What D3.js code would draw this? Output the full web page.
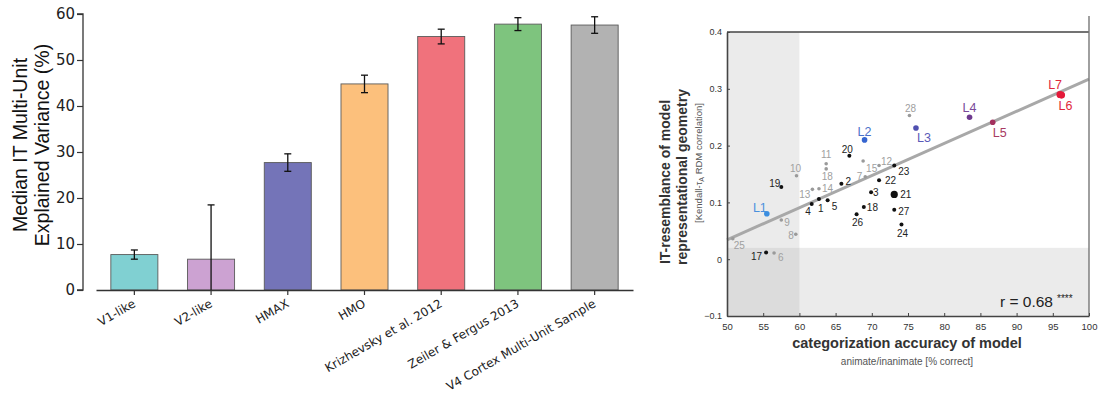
<!DOCTYPE html>
<html><head><meta charset="utf-8">
<script src="https://cdn.jsdelivr.net/npm/d3@7"></script>
<style>body{margin:0;background:#fff}svg{display:block}</style>
</head><body><svg id="c" width="1098" height="396"></svg>
<script>
// ---------- Left chart data ----------
const barCategories = ["V1-like","V2-like","HMAX","HMO","Krizhevsky et al. 2012","Zeiler & Fergus 2013","V4 Cortex Multi-Unit Sample"];
const barValues = [7.7, 6.7, 27.7, 44.8, 55.1, 57.8, 57.6];
const barErrors = [1.0, 11.8, 1.9, 1.9, 1.6, 1.4, 1.8];
const barYTicks = [0, 10, 20, 30, 40, 50, 60];

// ---------- Right chart data ----------
const pointLabels = ["L1","19","10","13","14","4","1","5","9","8","25","17","6","11","18","20","2","7","15","12","22","23","3","21","18","26","27","24","28","L2","L3","L4","L5","L6","L7"];
const pointX = [55.5,57.5,59.6,61.8,62.7,61.7,62.7,63.9,57.5,59.5,50.8,55.4,56.5,63.7,63.7,66.9,65.8,69.1,68.8,71.0,71.0,73.1,69.9,73.1,68.9,67.9,73.1,74.1,75.2,69.0,76.1,83.5,86.7,96.2,96.0];
const pointY = [0.080,0.127,0.147,0.123,0.124,0.097,0.106,0.104,0.069,0.044,0.036,0.012,0.011,0.168,0.159,0.182,0.133,0.145,0.173,0.165,0.139,0.165,0.118,0.114,0.092,0.079,0.087,0.061,0.253,0.210,0.231,0.250,0.241,0.289,0.290];
const pointKind = ["L","black","gray","gray","gray","black","black","black","gray","gray","gray","black","gray","gray","gray","black","black","gray","gray","gray","black","black","black","big","black","black","black","black","gray","L","L","L","L","L","L"];
const fitX = [50, 100];
const fitY = [0.034, 0.317];
const scatterXTicks = [50,55,60,65,70,75,80,85,90,95,100];
const scatterYTicks = [-0.1,0,0.1,0.2,0.3,0.4];
const rText = "r = 0.68";

// ---------- Styles / layout (not data) ----------
const barColors = ["#80d0d2","#cca2d2","#7474b8","#fcc07c","#f0727c","#7ec47e","#b2b2b2"];
const lColors = {L1:"#3b8ee0",L2:"#3565d0",L3:"#5050b0",L4:"#6e3a8e",L5:"#a3305e",L6:"#e41a3a",L7:"#e41a3a"};
const lTextColors = {L1:"#4a90dd",L2:"#4a70c8",L3:"#5a5ab8",L4:"#7a4a9a",L5:"#a83a62",L6:"#e0283c",L7:"#e0283c"};
// [anchor, dx, dy] label placement relative to each point
const labelPlace = [
 ["end",0,-2],["end",-1,0],["middle",-1,-4],["end",-2,9],["start",3,3],["end",-1,11],["start",-1,13],["start",4,10],
 ["start",3,6],["end",-2,5],["start",1,10],["end",-4,8],["start",4,8],["middle",0,-6],["middle",1,11],["middle",-2,-3],
 ["start",4,1],["end",-3,3],["start",3,11],["start",2,0],["start",6,4],["start",4,10],["start",2,4],["start",6,4],
 ["start",3,4],["middle",1,12],["start",4,5],["middle",1,12],["middle",1,-3],["middle",0,-4],["start",1,14],["middle",0,-5],
 ["start",0,15],["start",-3,15],["end",2,-5]
];

const svg = d3.select("#c");

// ================= LEFT BAR CHART =================
const lx = d3.scaleBand().domain(barCategories).range([96,633]).paddingInner(0.387).paddingOuter(0.1935);
const ly = d3.scaleLinear().domain([0,60]).range([290,14]);
const gL = svg.append("g");

gL.selectAll("rect.bar").data(barCategories).join("rect")
  .attr("x", d => lx(d)).attr("width", lx.bandwidth())
  .attr("y", (d,i) => ly(barValues[i])).attr("height", (d,i) => ly(0)-ly(barValues[i]))
  .attr("fill", (d,i) => barColors[i]).attr("stroke","#5a5a5a").attr("stroke-width",0.9);

// error bars
barCategories.forEach((d,i) => {
  const cx = lx(d) + lx.bandwidth()/2;
  const lo = Math.max(0, barValues[i]-barErrors[i]), hi = barValues[i]+barErrors[i];
  gL.append("line").attr("x1",cx).attr("x2",cx).attr("y1",ly(lo)).attr("y2",ly(hi)).attr("stroke","#111").attr("stroke-width",1.3);
  gL.append("line").attr("x1",cx-3.5).attr("x2",cx+3.5).attr("y1",ly(hi)).attr("y2",ly(hi)).attr("stroke","#111").attr("stroke-width",1.3);
  if (lo > 0) gL.append("line").attr("x1",cx-3.5).attr("x2",cx+3.5).attr("y1",ly(lo)).attr("y2",ly(lo)).attr("stroke","#111").attr("stroke-width",1.3);
});

// y axis (offset spine)
const yAxisL = gL.append("g").attr("transform","translate(83,0)")
  .call(d3.axisLeft(ly).tickValues(barYTicks).tickSize(6).tickPadding(2));
yAxisL.select(".domain").attr("stroke","#333").attr("stroke-width",1.3).attr("d","M-6,14H0V290H-6");
yAxisL.selectAll(".tick line").attr("stroke","#333").attr("stroke-width",1.2);
yAxisL.selectAll(".tick text").attr("font-family","DejaVu Sans").attr("font-size",15).attr("fill","#222");

// x axis
const xAxisL = gL.append("g").attr("transform","translate(0,290)")
  .call(d3.axisBottom(lx).tickSize(5).tickSizeOuter(0));
xAxisL.select(".domain").attr("stroke","#333").attr("stroke-width",1.3);
xAxisL.selectAll(".tick line").attr("stroke","#333").attr("stroke-width",1.2);
xAxisL.selectAll(".tick text")
  .attr("font-family","DejaVu Sans").attr("font-size",12).attr("fill","#222")
  .attr("text-anchor","end").attr("dy",null).attr("y",0)
  .attr("transform","translate(2,16) rotate(-30)");

// y label
const ylab = gL.append("text").attr("transform","translate(0,145) rotate(-90)")
  .attr("font-family","Liberation Sans").attr("font-size",19.5).attr("fill","#111").attr("text-anchor","middle");
ylab.append("tspan").attr("x",0).attr("y",27).text("Median IT Multi-Unit");
ylab.append("tspan").attr("x",0).attr("y",49).text("Explained Variance (%)");

// ================= RIGHT SCATTER =================
const sx = d3.scaleLinear().domain([50,100]).range([727,1089]);
const sy = d3.scaleLinear().domain([-0.1,0.4]).range([316,32]);
const gR = svg.append("g");

// shaded regions
gR.append("rect").attr("x",sx(50)).attr("width",sx(60)-sx(50)).attr("y",sy(0.4)).attr("height",sy(-0.1)-sy(0.4)).attr("fill","#ebebeb");
gR.append("rect").attr("x",sx(50)).attr("width",sx(100)-sx(50)).attr("y",sy(0.02)).attr("height",sy(-0.1)-sy(0.02)).attr("fill","#ebebeb");
gR.append("rect").attr("x",sx(50)).attr("width",sx(60)-sx(50)).attr("y",sy(0.02)).attr("height",sy(-0.1)-sy(0.02)).attr("fill","#dcdcdc");

// fit line
gR.append("line").attr("x1",sx(fitX[0])).attr("y1",sy(fitY[0])).attr("x2",sx(fitX[1])).attr("y2",sy(fitY[1]))
  .attr("stroke","#a8a8a8").attr("stroke-width",3);

// frame
gR.append("path").attr("d",`M${sx(50)},${sy(0.4)}H${sx(100)}`).attr("stroke","#444").attr("stroke-width",1.6).attr("fill","none");
gR.append("path").attr("d",`M${sx(100)},16V${sy(-0.1)}`).attr("stroke","#777").attr("stroke-width",1.4).attr("fill","none");

// axes
const xAxisR = gR.append("g").attr("transform",`translate(0,${sy(-0.1)})`)
  .call(d3.axisBottom(sx).tickValues(scatterXTicks).tickSizeInner(-3).tickSizeOuter(0).tickPadding(7).tickFormat(d3.format("d")));
xAxisR.select(".domain").attr("stroke","#444").attr("stroke-width",1.6);
xAxisR.selectAll(".tick line").attr("stroke","#444");
xAxisR.selectAll(".tick text").attr("font-family","Liberation Sans").attr("font-size",9.5).attr("fill","#333");

const yAxisR = gR.append("g").attr("transform",`translate(${sx(50)},0)`)
  .call(d3.axisLeft(sy).tickValues(scatterYTicks).tickSizeInner(-3).tickSizeOuter(0).tickPadding(5)
    .tickFormat(d => d === 0 ? "0" : d3.format(".1f")(d).replace("-","\u2212")));
yAxisR.select(".domain").attr("stroke","#444").attr("stroke-width",1.6);
yAxisR.selectAll(".tick line").attr("stroke","#444");
yAxisR.selectAll(".tick text").attr("font-family","Liberation Sans").attr("font-size",9).attr("fill","#333");

// points
pointLabels.forEach((lab,i) => {
  const k = pointKind[i];
  const px = sx(pointX[i]), py = sy(pointY[i]);
  let r = 2, fill = "#111";
  if (k === "gray") { fill = "#9a9a9a"; r = 1.8; }
  else if (k === "big") { r = 3.6; }
  else if (k === "L") { fill = lColors[lab]; r = (lab==="L6"||lab==="L7") ? 3.6 : 2.8; }
  gR.append("circle").attr("cx",px).attr("cy",py).attr("r",r).attr("fill",fill);
});
pointLabels.forEach((lab,i) => {
  const k = pointKind[i];
  const [anc,dx,dy] = labelPlace[i];
  const t = gR.append("text").attr("x",sx(pointX[i])+dx).attr("y",sy(pointY[i])+dy)
    .attr("text-anchor",anc).attr("font-family","Liberation Sans").text(lab);
  if (k === "L") t.attr("font-size",12.5).attr("fill",lTextColors[lab]);
  else t.attr("font-size",10).attr("fill", k === "gray" ? "#a0a0a0" : "#222");
});

// r text
gR.append("text").attr("x",1053).attr("y",307).attr("text-anchor","end")
  .attr("font-family","Liberation Sans").attr("font-size",15.5).attr("fill","#222").text(rText);
gR.append("text").attr("x",1057).attr("y",302).attr("text-anchor","start")
  .attr("font-family","Liberation Sans").attr("font-size",10).attr("fill","#222").text("****");

// axis titles
gR.append("text").attr("x",907).attr("y",348).attr("text-anchor","middle")
  .attr("font-family","Liberation Sans").attr("font-weight","bold").attr("font-size",14.5).attr("fill","#333")
  .text("categorization accuracy of model");
gR.append("text").attr("x",907).attr("y",365).attr("text-anchor","middle")
  .attr("font-family","Liberation Sans").attr("font-size",10).attr("fill","#555")
  .text("animate/inanimate [% correct]");

const yt = gR.append("text").attr("transform","translate(0,185) rotate(-90)")
  .attr("font-family","Liberation Sans").attr("text-anchor","middle").attr("fill","#333");
yt.append("tspan").attr("x",3).attr("y",670).attr("font-weight","bold").attr("font-size",14).text("IT-resemblance of model");
yt.append("tspan").attr("x",8).attr("y",687).attr("font-weight","bold").attr("font-size",14).text("representational geometry");
const t3 = yt.append("tspan").attr("x",22).attr("y",702).attr("font-size",9.5).attr("fill","#555");
t3.text("[Kendall-\u03c4");
yt.append("tspan").attr("font-size",7).attr("fill","#555").attr("dy",2).text("A");
yt.append("tspan").attr("font-size",9.5).attr("fill","#555").attr("dy",-2).text(" RDM correlation]");
</script></body></html>
